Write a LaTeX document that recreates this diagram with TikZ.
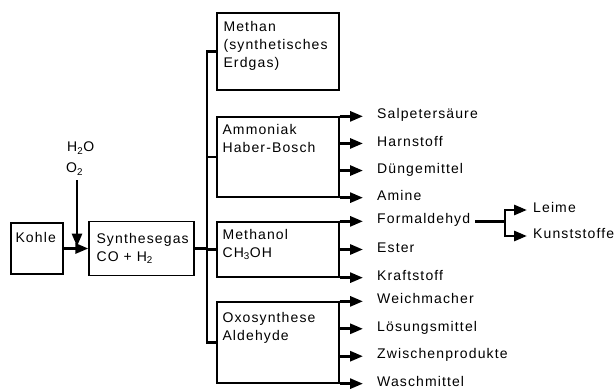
\documentclass[tikz,border=0pt]{standalone}
\usepackage{fontspec}
\setmainfont{Liberation Sans}[LetterSpace=8]
\usetikzlibrary{arrows.meta}

\tikzset{
  stufe/.style={draw, line width=1.3pt, minimum width=122pt, inner sep=0pt},
  txt/.style={anchor=north west, inner sep=0pt, align=left},
  produkt/.style={anchor=mid west, inner sep=0pt},
  conn/.style={line width=2.8pt},
  pfeil/.style={line width=2.8pt, -{Triangle[length=13pt,width=10pt]}},
}

\begin{document}
\begin{tikzpicture}[x=1pt, y=-1pt, font=\fontsize{14pt}{18pt}\selectfont]
  \useasboundingbox (0,0) rectangle (615,390);

  % --- Ausgangsstoffe ---
  \node[stufe, minimum width=52pt, minimum height=51pt] (kohle) at (37,248.5) {};
  \node[stufe, minimum width=105pt, minimum height=54pt] (syn) at (141.5,248.5) {};
  \node[txt] (kohletxt) at ([shift={(5,10)}]kohle.north west) {Kohle};
  \node[txt] (syntxt) at ([shift={(8,12)}]syn.north west) {Synthesegas\\CO + H\textsubscript{2}};
  \node[txt] (wasser) at (67,142) {H\textsubscript{2}O};
  \node[txt] (sauer) at (66,163) {O\textsubscript{2}};
  \coordinate (zufuhr) at (77,180);
  \draw[pfeil] (kohle.east) -- (syn.west);
  \draw[pfeil, shorten >=2pt] (zufuhr) -- (zufuhr |- kohle.east);

  % --- Verfahren ---
  \node[stufe, minimum height=77pt] (methan) at (278,51.5) {};
  \node[stufe, minimum height=80pt] (ammon) at (278,157) {};
  \node[stufe, minimum height=55pt] (methanol) at (278,249.5) {};
  \node[stufe, minimum height=81pt] (oxo) at (278,342.5) {};
  \node[txt] (methantxt) at ([shift={(7,9)}]methan.north west) {Methan\\(synthetisches\\Erdgas)};
  \node[txt] (ammontxt) at ([shift={(6,8)}]ammon.north west) {Ammoniak\\Haber-Bosch};
  \node[txt] (methanoltxt) at ([shift={(6,8)}]methanol.north west) {Methanol\\CH\textsubscript{3}OH};
  \node[txt] (oxotxt) at ([shift={(6,11)}]oxo.north west) {Oxosynthese\\Aldehyde};

  % --- Verteiler ---
  \coordinate (stamm) at (207,0);
  \draw[conn] (syn.east) -- (syn.east -| stamm);
  \draw[conn] (methan.west) -- (methan.west -| stamm) -- (oxo.west -| stamm) -- (oxo.west);
  \draw[conn] (ammon.west -| stamm) -- (ammon.west);
  \draw[conn] (methanol.west -| stamm) -- (methanol.west);

  % --- Produkte ---
  \coordinate (prodx) at (377,0);
  \foreach \nm/\txt [count=\i from 0] in {salp/Salpetersäure, harn/Harnstoff, duenger/Düngemittel, amine/Amine} {
    \path (ammon.north east) -- (ammon.south east) coordinate[pos=\i/3] (ammon\i);
    \node[produkt] (\nm) at (ammon\i -| prodx) {\txt};
    \draw[pfeil, shorten >=14pt] (ammon\i) -- (\nm.mid west);
  }
  \foreach \nm/\txt [count=\i from 0] in {forma/Formaldehyd, ester/Ester, kraft/Kraftstoff} {
    \path (methanol.north east) -- (methanol.south east) coordinate[pos=\i/2] (methanol\i);
    \node[produkt] (\nm) at (methanol\i -| prodx) {\txt};
    \draw[pfeil, shorten >=14pt] (methanol\i) -- (\nm.mid west);
  }
  \foreach \nm/\txt [count=\i from 0] in {weich/Weichmacher, loes/Lösungsmittel, zwischen/Zwischenprodukte, wasch/Waschmittel} {
    \path (oxo.north east) -- (oxo.south east) coordinate[pos=\i/3] (oxo\i);
    \node[produkt] (\nm) at (oxo\i -| prodx) {\txt};
    \draw[pfeil, shorten >=14pt] (oxo\i) -- (\nm.mid west);
  }

  % --- Formaldehyd weiter ---
  \coordinate (gabel) at (505,0);
  \node[produkt] (leime) at (533,210) {Leime};
  \node[produkt] (kunst) at (533,236) {Kunststoffe};
  \draw[conn] ([xshift=5pt]forma.mid east) -- (forma.mid east -| gabel);
  \draw[conn, line cap=rect] (leime.mid west -| gabel) -- (kunst.mid west -| gabel);
  \draw[pfeil, shorten >=6pt] (leime.mid west -| gabel) -- (leime.mid west);
  \draw[pfeil, shorten >=6pt] (kunst.mid west -| gabel) -- (kunst.mid west);
\end{tikzpicture}
\end{document}
